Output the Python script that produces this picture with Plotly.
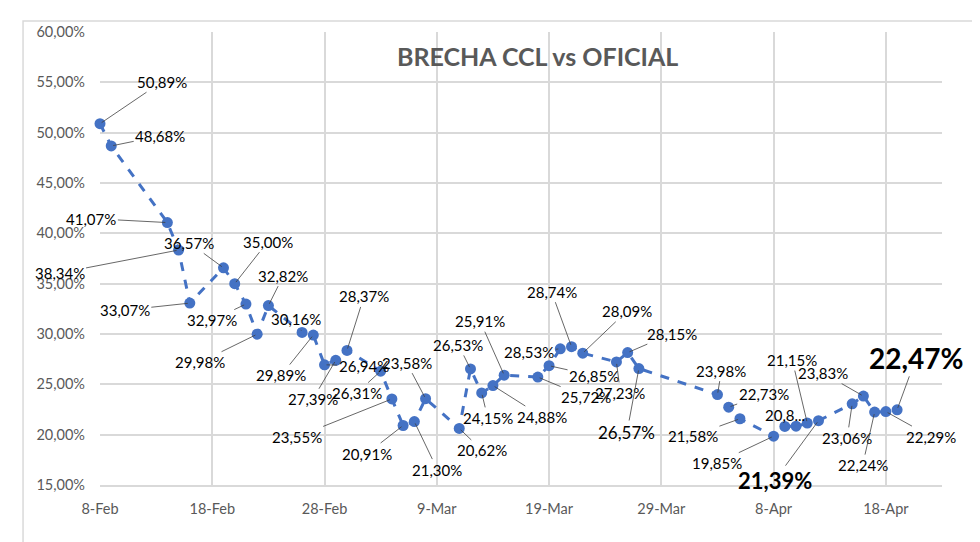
import plotly.graph_objects as go

# Brecha CCL vs oficial (%), ruedas hábiles 2024
fechas = [
    "2024-02-08", "2024-02-09", "2024-02-14", "2024-02-15", "2024-02-16",
    "2024-02-19", "2024-02-20", "2024-02-21", "2024-02-22", "2024-02-23",
    "2024-02-26", "2024-02-27", "2024-02-28", "2024-02-29", "2024-03-01",
    "2024-03-04", "2024-03-05", "2024-03-06", "2024-03-07", "2024-03-08",
    "2024-03-11", "2024-03-12", "2024-03-13", "2024-03-14", "2024-03-15",
    "2024-03-18", "2024-03-19", "2024-03-20", "2024-03-21", "2024-03-22",
    "2024-03-25", "2024-03-26", "2024-03-27", "2024-04-03", "2024-04-04",
    "2024-04-05", "2024-04-08", "2024-04-09", "2024-04-10", "2024-04-11",
    "2024-04-12", "2024-04-15", "2024-04-16", "2024-04-17", "2024-04-18",
    "2024-04-19",
]
brecha = [
    50.89, 48.68, 41.07, 38.34, 33.07,
    36.57, 35.00, 32.97, 29.98, 32.82,
    30.16, 29.89, 26.94, 27.39, 28.37,
    26.31, 23.55, 20.91, 21.30, 23.58,
    20.62, 26.53, 24.15, 24.88, 25.91,
    25.72, 26.85, 28.53, 28.74, 28.09,
    27.23, 28.15, 26.57, 23.98, 22.73,
    21.58, 19.85, 20.82, 20.84, 21.15,
    21.39, 23.06, 23.83, 22.24, 22.29,
    22.47,
]

# texto de etiqueta especial (Excel lo trunca / lo oculta)
etiqueta_especial = {"2024-04-09": "20,8...", "2024-04-10": None}

# posición del rótulo relativa al punto (px): (dx, dy)
desplazamientos = [
    (62, -42), (49, -10), (-76, -4), (-119, 23), (-65, 7),
    (-34, -25), (33, -42), (-34, 16), (-57, 28), (15, -30),
    (-6, -13), (-32, 40), (39, 1), (-23, 39), (17, -54),
    (-24, 22), (-95, 38), (-36, 28), (23, 48), (-19, -36),
    (23, 22), (-12, -24), (6, 25), (49, 31), (-24, -54),
    (48, 20), (45, 10), (-31, 3), (-20, -55), (44, -42),
    (4, 31), (44, -19), (-12, 64), (4, -24), (35, -13),
    (-47, 17), (-57, 27), (0, -11), (0, 0), (-15, -63),
    (-44, 60), (-5, 34), (-40, -23), (-12, 53), (45, 25),
    (19, -52),
]
# estilos de rótulos destacados
estilo_especial = {
    "2024-03-27": dict(size=17, bold=False),
    "2024-04-12": dict(size=22, bold=True),
    "2024-04-19": dict(size=28, bold=True),
}

AZUL = "#4472C4"
GRIS = "#595959"
FUENTE = "Lato, 'Open Sans', sans-serif"

valores = [v / 100 for v in brecha]

fig = go.Figure()
fig.add_trace(go.Scatter(
    x=fechas, y=valores, mode="lines+markers",
    line=dict(color=AZUL, width=3, dash="dash"),
    marker=dict(color=AZUL, size=11),
    cliponaxis=False, hoverinfo="skip", showlegend=False,
))

for f, v, (dx, dy) in zip(fechas, brecha, desplazamientos):
    texto = f"{v:.2f}%".replace(".", ",")
    if f in etiqueta_especial:
        texto = etiqueta_especial[f]
        if texto is None:
            continue
    est = estilo_especial.get(f, dict(size=15, bold=False))
    if est["bold"]:
        texto = f"<b>{texto}</b>"
    fig.add_annotation(
        x=f, y=v / 100, text=texto, showarrow=True,
        ax=dx, ay=dy, axref="pixel", ayref="pixel",
        arrowhead=0, arrowwidth=0.8, arrowcolor="#404040", standoff=2,
        font=dict(family=FUENTE, size=est["size"], color="#000000"),
    )

fig.add_annotation(
    text="<b>BRECHA CCL vs OFICIAL</b>", xref="paper", yref="paper",
    x=0.52, y=0.947, yanchor="middle", xanchor="center", showarrow=False,
    font=dict(family=FUENTE, size=25, color=GRIS),
)

# borde exterior del gráfico
fig.add_shape(type="rect", xref="paper", yref="paper",
              x0=-0.0914, x1=1.0392, y0=-0.16, y1=1.0243,
              line=dict(color="#d9d9d9", width=1.5), layer="below")

# la página agrega 8 px de margen al cuerpo: se compensa en los márgenes
fig.update_layout(
    width=972, height=534,
    margin=dict(l=92, r=38, t=24, b=57),
    paper_bgcolor="white", plot_bgcolor="white",
    separators=",.",
    font=dict(family=FUENTE, color=GRIS, size=14.5),
    xaxis=dict(
        type="date", range=["2024-02-08", "2024-04-23"],
        tick0="2024-02-08", dtick=10 * 86400000, tickformat="%-d-%b",
        showgrid=True, gridcolor="#d9d9d9", gridwidth=1.5,
        showline=True, linecolor="#d9d9d9", linewidth=1.5,
        ticks="", zeroline=False, ticklabelstandoff=10,
    ),
    yaxis=dict(
        range=[0.15, 0.60], dtick=0.05, tick0=0.15, tickformat=".2%",
        showgrid=True, gridcolor="#d9d9d9", gridwidth=1.5,
        showline=False, ticks="", zeroline=False, ticklabelstandoff=14,
    ),
)

fig.write_html("out.html")
